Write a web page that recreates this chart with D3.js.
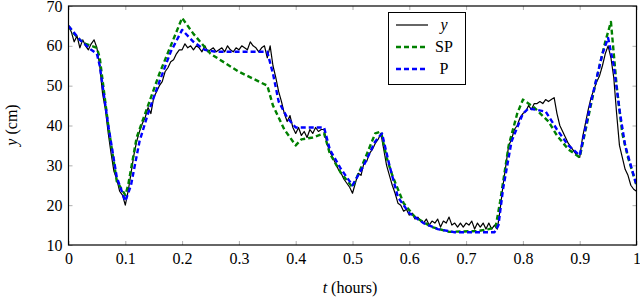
<!DOCTYPE html>
<html>
<head>
<meta charset="utf-8">
<script src="https://cdn.jsdelivr.net/npm/d3@7"></script>
</head>
<body style="margin:0">
<svg id="chart" width="640" height="298" font-family="Liberation Serif"></svg>
<script>
// ---- data ----
const tY = d3.range(0, 201).map(i => i / 200); // sample times (hours), step 0.005
const yMeasured = [
65,63.5,61,62.5,59.5,61.5,60,59,60.5,61.5,
59.5,55,48,44,38,33,28.5,26.5,23.5,22.5,
20,23.5,28,32.5,36,38.5,40.5,42,44.5,43,
47,48.5,50,51,53.5,54.5,56,56.5,58,59,
59,60.5,59.5,60,59,60,59.5,58.5,60,58.5,
59,59.5,58.5,59,59.5,58.5,60,59,58.5,59.5,
59,60,59.5,59,61,60,59.5,58.5,59.5,60,
57,60,55,52,48.5,46,43,41,42.5,39.5,
38,39.5,37.5,38.5,37,39,38,39.5,38.5,39,
39,35.5,33.5,32,30.5,29,28,26.5,25.5,24.5,
23,25.5,28,27.5,30.5,31,33,34,35.5,36.5,
38,34,30,27.5,25,23,20.5,20,18.5,19,
17.5,18,16.5,17,16,15.5,16.5,15,16,15.5,
16.5,14.5,16,15.5,17,15,15.5,14.5,15.5,14.5,
15.5,15,16,14,15.5,14.5,15.5,14,15.5,14,
15,14,19,25,30,35,36.5,39,40,42,
43,43.5,45,44,45.5,45.5,46,45.5,46.5,46,
46.5,47,43,40,38.5,37,35.5,34.5,33.5,32.5,
32,37,40.5,44,47,49,51,52.5,55,58,
60,57,52,43,35,32,29,27.5,25,24,
23.5
];
const tSP = [0,0.01,0.02,0.03,0.05,0.055,0.07,0.085,0.1,0.105,0.12,0.14,0.16,0.18,0.2,0.22,0.25,0.3,0.35,0.36,0.38,0.4,0.41,0.43,0.45,0.46,0.48,0.5,0.52,0.54,0.55,0.56,0.57,0.59,0.61,0.64,0.67,0.72,0.74,0.752,0.76,0.775,0.79,0.8,0.82,0.845,0.86,0.88,0.9,0.93,0.945,0.955,0.965,0.975,0.985,1.0];
const ySP = [65,63,61.5,60.5,59.5,57,40,26,22.5,25,37,45,53,60,67,63,58,53.5,50,45,39,35,36.5,37,38,33,28,24.5,31,38,38.5,32,27.5,20.5,17,14.5,13.3,13.5,14,14.5,21,35,43,46.5,44.5,41,37.5,34,32,52,61,66,50,38,32,25];
const tP = [0,0.02,0.04,0.05,0.055,0.07,0.085,0.1,0.11,0.125,0.14,0.16,0.18,0.2,0.22,0.24,0.26,0.3,0.35,0.36,0.37,0.385,0.4,0.45,0.46,0.48,0.5,0.52,0.54,0.552,0.565,0.58,0.6,0.625,0.65,0.68,0.75,0.757,0.765,0.78,0.8,0.81,0.84,0.86,0.88,0.9,0.92,0.94,0.95,0.96,0.97,0.98,0.99,1.0];
const yP = [65,61.5,59,58,55,40,27,21,25,36,43,51,58.5,64,61,59,58.5,58.5,58.5,53,46,42,39.5,39.5,34,29,25,30,36,38,30,22,18,15.5,14,13.2,13.2,15,24,36,43,44.3,43.5,39,35,32.5,46,58,62,55,44,35,30,25];
const xTicks = [0,0.1,0.2,0.3,0.4,0.5,0.6,0.7,0.8,0.9,1];
const yTicks = [10,20,30,40,50,60,70];
const legendLabels = ["y","SP","P"];

// ---- layout ----
const svg = d3.select("#chart");
const x = d3.scaleLinear().domain([0,1]).range([68.5,636.5]);
const y = d3.scaleLinear().domain([10,70]).range([245,6]);
const FS = 16;
const FF = "Liberation Serif";

function serif(sel){
  return sel.attr("font-family", FF).attr("font-size", FS)
    .style("font-family", "'" + FF + "'").style("font-size", FS + "px");
}
function styleAxis(g){
  g.attr("font-family", FF).attr("font-size", FS);
  g.select(".domain").remove();
  g.selectAll(".tick line").attr("stroke","#9a9a9a").attr("stroke-width",0.8);
  g.selectAll("text").call(serif).attr("fill","#000");
}
svg.append("g").attr("transform","translate(0,245)")
  .call(d3.axisBottom(x).tickValues(xTicks).tickSize(-4).tickPadding(8).tickFormat(d3.format("~g")))
  .call(styleAxis);
svg.append("g").attr("transform","translate(0,6)")
  .call(d3.axisTop(x).tickValues(xTicks).tickSize(-4).tickFormat(""))
  .call(styleAxis);
svg.append("g").attr("transform","translate(68.5,0)")
  .call(d3.axisLeft(y).tickValues(yTicks).tickSize(-4).tickPadding(6))
  .call(styleAxis);
svg.append("g").attr("transform","translate(636.5,0)")
  .call(d3.axisRight(y).tickValues(yTicks).tickSize(-4).tickFormat(""))
  .call(styleAxis);

// clip
svg.append("clipPath").attr("id","clip").append("rect")
  .attr("x",68.5).attr("y",6).attr("width",568).attr("height",239);

const line = d3.line().x(d=>x(d[0])).y(d=>y(d[1]));
const plot = svg.append("g").attr("clip-path","url(#clip)");
const series = [
  {t:tY, v:yMeasured, color:"#000", w:1.2, dash:null},
  {t:tSP, v:ySP, color:"#008000", w:2.4, dash:"5,3"},
  {t:tP, v:yP, color:"#0000ff", w:2.4, dash:"5,3"}
];
series.forEach(s=>{
  plot.append("path").datum(s.t.map((t,i)=>[t,s.v[i]]))
    .attr("d",line).attr("fill","none").attr("stroke",s.color)
    .attr("stroke-width",s.w).attr("stroke-linejoin","round")
    .attr("stroke-dasharray",s.dash);
});

// frame
svg.append("rect").attr("x",68.5).attr("y",6).attr("width",568).attr("height",239)
  .attr("fill","none").attr("stroke","#000").attr("stroke-width",1.2);

// axis titles
const xt = svg.append("text").attr("x",350).attr("y",293).attr("text-anchor","middle").call(serif);
xt.append("tspan").attr("font-style","italic").text("t");
xt.append("tspan").text(" (hours)");
const yt = svg.append("text").attr("transform","translate(17,125) rotate(-90)").attr("text-anchor","middle").call(serif);
yt.append("tspan").attr("font-style","italic").text("y");
yt.append("tspan").text(" (cm)");

// legend
const lg = svg.append("g");
lg.append("rect").attr("x",388.5).attr("y",12.5).attr("width",77).attr("height",72)
  .attr("fill","#fff").attr("stroke","#000").attr("stroke-width",1);
const rows = [25,47,69];
series.forEach((s,i)=>{
  lg.append("line").attr("x1",396).attr("x2",428).attr("y1",rows[i]).attr("y2",rows[i])
    .attr("stroke",s.color).attr("stroke-width",s.w).attr("stroke-dasharray",s.dash);
  lg.append("text").attr("x",444).attr("y",rows[i]+5).attr("text-anchor","middle").call(serif)
    .attr("font-style",i===0?"italic":"normal").text(legendLabels[i]);
});
</script>
</body>
</html>
